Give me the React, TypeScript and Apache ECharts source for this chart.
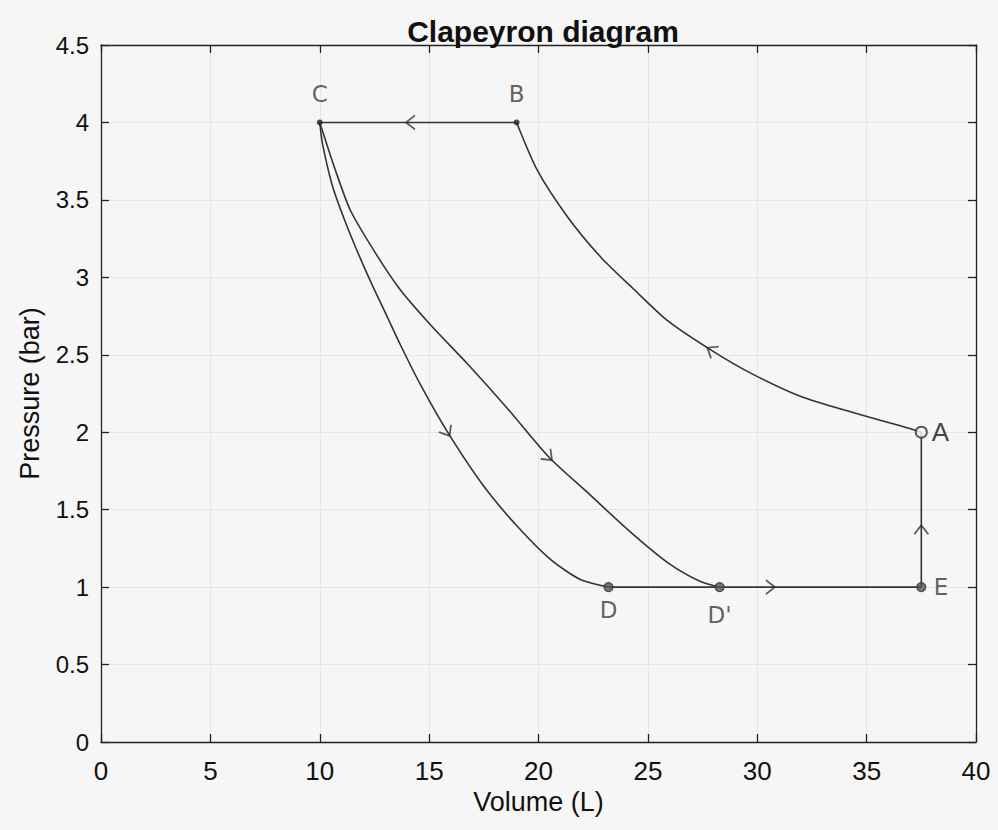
import React, { useEffect, useRef } from "react";
import * as echarts from "echarts";

// Volume (L), Pressure (bar)
const isobarCB: number[][] = [[19, 4], [10, 4]];
const adiabatCD: number[][] = [
  [10, 4], [10.12, 3.866], [10.57, 3.595], [11.1, 3.383], [11.71, 3.17], [12.4, 2.95],
  [13.09, 2.744], [13.69, 2.563], [14.61, 2.305], [15.83, 2.004], [17.51, 1.649],
  [19.04, 1.391], [20.56, 1.177], [21.94, 1.047], [23.2, 1.0],
];
const curveCDp: number[][] = [
  [10, 4], [10.72, 3.69], [11.41, 3.43], [12.6, 3.145], [13.69, 2.918], [15.07, 2.692],
  [16.76, 2.44], [18.6, 2.15], [20.47, 1.84], [22.26, 1.608], [24.09, 1.37], [25.92, 1.157],
  [27.43, 1.034], [28.28, 1.0],
];
const curveBA: number[][] = [
  [19, 4], [19.95, 3.69], [21.33, 3.39], [22.85, 3.13], [24.38, 2.92], [25.9, 2.72],
  [27.89, 2.53], [29.72, 2.38], [32.0, 2.23], [34.29, 2.13], [36.58, 2.04], [37.5, 2.0],
];
const isobarDE: number[][] = [[23.2, 1], [37.5, 1]];
const isochoreEA: number[][] = [[37.5, 1], [37.5, 2]];

const smallDots: number[][] = [[10, 4], [19, 4]];
const greyDots: number[][] = [[23.2, 1], [28.28, 1], [37.5, 1]];
const openDots: number[][] = [[37.5, 2]];

// [V, P, direction in degrees]
const arrows: number[][] = [
  [14.15, 4, 180],
  [27.89, 2.53, 147],
  [15.83, 2.0, -59],
  [20.47, 1.84, -44],
  [30.6, 1, 0],
  [37.5, 1.37, 90],
];

const pointNames = ["C", "B", "D", "D'", "E", "A"];
const pointCoords: number[][] = [[10, 4], [19, 4], [23.2, 1], [28.28, 1], [37.5, 1], [37.5, 2]];
const pointLabelSides = ["top", "top", "bottom", "bottom", "right", "right"];

const xTicks = [0, 5, 10, 15, 20, 25, 30, 35, 40];
const yTicks = [0, 0.5, 1, 1.5, 2, 2.5, 3, 3.5, 4, 4.5];

const INK = "#333333";
const BG = "#f6f6f6";
const FRAME = "#222";

export default function App() {
  const ref = useRef<HTMLDivElement>(null);
  useEffect(() => {
    if (!ref.current) return;
    const chart = echarts.init(ref.current, null, { renderer: "svg" });
    const lineSeries = (data: number[][]) => ({
      type: "line",
      data,
      smooth: 0.25,
      symbol: "none",
      lineStyle: { color: INK, width: 1.6 },
      z: 2,
    });
    const xRange = { type: "value", min: xTicks[0], max: xTicks[xTicks.length - 1], interval: 5 };
    const yRange = { type: "value", min: yTicks[0], max: yTicks[yTicks.length - 1], interval: 0.5 };
    const frameAxis = (position: string) => ({
      position,
      axisLine: { show: true, onZero: false, lineStyle: { color: FRAME, width: 1.3 } },
      axisTick: { show: false },
      axisLabel: { show: false },
      splitLine: { show: false },
    });
    // inward ticks: an invisible axis moved 8px inside the frame, ticks pointing outward to the frame
    const tickAxis = (position: string) => ({
      position,
      offset: -8,
      axisLine: { show: false, onZero: false },
      axisTick: { show: true, inside: false, length: 8, lineStyle: { color: FRAME, width: 1.3 } },
      axisLabel: { show: false },
      splitLine: { show: false },
    });
    chart.setOption({
      animation: false,
      backgroundColor: BG,
      title: {
        text: "Clapeyron diagram",
        left: 538,
        textAlign: "center",
        top: 11,
        textStyle: { fontFamily: "Liberation Sans", fontWeight: "bold", fontSize: 30, color: "#111" },
      },
      grid: { left: 101, right: 22, top: 45, bottom: 88, containLabel: false },
      xAxis: [
        {
          ...xRange,
          ...frameAxis("bottom"),
          name: "Volume (L)",
          nameLocation: "middle",
          nameGap: 40,
          nameTextStyle: { fontFamily: "Liberation Sans", fontSize: 27, color: "#111" },
          axisLabel: { show: true, fontFamily: "Liberation Sans", fontSize: 26, color: "#111", margin: 16 },
          splitLine: { show: true, lineStyle: { color: "#e6e6e6", width: 1 } },
        },
        { ...xRange, ...frameAxis("top") },
        { ...xRange, ...tickAxis("bottom") },
        { ...xRange, ...tickAxis("top") },
      ],
      yAxis: [
        {
          ...yRange,
          ...frameAxis("left"),
          name: "Pressure (bar)",
          nameLocation: "middle",
          nameGap: 58,
          nameTextStyle: { fontFamily: "Liberation Sans", fontSize: 27, color: "#111" },
          axisLabel: { show: true, fontFamily: "Liberation Sans", fontSize: 24, color: "#111", margin: 12 },
          splitLine: { show: true, lineStyle: { color: "#e6e6e6", width: 1 } },
        },
        { ...yRange, ...frameAxis("right") },
        { ...yRange, ...tickAxis("left") },
        { ...yRange, ...tickAxis("right") },
      ],
      series: [
        lineSeries(isobarCB),
        lineSeries(adiabatCD),
        lineSeries(curveCDp),
        lineSeries(curveBA),
        lineSeries(isobarDE),
        lineSeries(isochoreEA),
        {
          type: "scatter",
          data: smallDots,
          symbol: "circle",
          symbolSize: 6,
          itemStyle: { color: "#222" },
          z: 4,
        },
        {
          type: "scatter",
          data: greyDots,
          symbol: "circle",
          symbolSize: 9,
          itemStyle: { color: "#555", borderColor: "#333", borderWidth: 1.2 },
          z: 4,
        },
        {
          type: "scatter",
          data: openDots,
          symbol: "circle",
          symbolSize: 11,
          itemStyle: { color: BG, borderColor: "#333", borderWidth: 2 },
          z: 4,
        },
        {
          type: "scatter",
          data: arrows.map((a) => [a[0], a[1]]),
          symbol: "path://M0,0 L10,6 L0,12",
          symbolSize: [9, 14],
          symbolRotate: (_v: any, p: any) => arrows[p.dataIndex][2],
          itemStyle: { color: "rgba(0,0,0,0)", borderColor: INK, borderWidth: 1.6 },
          z: 5,
        },
        {
          type: "scatter",
          label: {
            show: true,
            fontFamily: "DejaVu Sans",
            fontWeight: "normal",
            fontSize: 23,
            color: "#3a3a3a",
          },
          data: pointCoords.map((c, i) => {
            const name = pointNames[i];
            const isA = name === "A";
            return {
              value: c,
              label: {
                formatter: name,
                position: pointLabelSides[i],
                distance: isA ? 10 : name === "E" ? 12 : name === "D" ? 11 : 16,
                ...(isA ? { fontFamily: "Liberation Sans", fontSize: 26, color: "#111" } : {}),
              },
            };
          }),
          symbol: "circle",
          symbolSize: 1,
          itemStyle: { color: "rgba(0,0,0,0)" },
          z: 6,
        },
      ],
    });
    return () => chart.dispose();
  }, []);
  return <div ref={ref} style={{ width: 998, height: 830, position: "absolute", left: 0, top: 0 }} />;
}
